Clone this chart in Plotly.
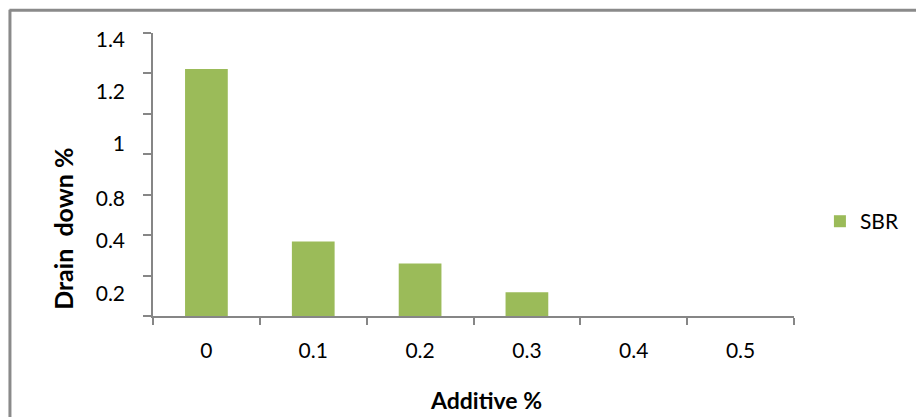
import plotly.graph_objects as go

# ---- data ----
categories = ["0", "0.1", "0.2", "0.3", "0.4", "0.5"]
sbr_values = [1.222, 0.368, 0.26, 0.118, 0, 0]
y_tick_text = ["1.4", "1.2", "1", "0.8", "0.4", "0.2"]
y_tick_pos = [1.367, 1.110, 0.853, 0.581, 0.373, 0.112]

# ---- layout constants (pixels) ----
W, H = 916, 417
L, R, T, B = 153, 796, 33.3, 316.5
GRAY = "#868686"


def px_x(p):
    return (p - L) / (R - L)


def px_y(p):
    return (B - p) / (B - T)


fig = go.Figure(
    go.Bar(
        x=categories,
        y=sbr_values,
        name="SBR",
        width=0.4,
        marker=dict(color="#9BBB59", line=dict(width=0)),
    )
)

fig.update_layout(
    width=W,
    height=H,
    margin=dict(l=L, r=W - R, t=T, b=H - B, pad=0),
    paper_bgcolor="white",
    plot_bgcolor="white",
    font=dict(family="Lato", size=21, color="#000000"),
    showlegend=True,
    legend=dict(
        x=px_x(822),
        y=px_y(222),
        xanchor="left",
        yanchor="middle",
        font=dict(size=21),
        bgcolor="rgba(0,0,0,0)",
    ),
    bargap=0.6,
)

fig.update_xaxes(
    type="category",
    range=[-0.5, 5.5],
    showline=True,
    linecolor=GRAY,
    linewidth=1.5,
    ticks="outside",
    ticklen=7,
    tickcolor=GRAY,
    tickwidth=1.5,
    tickson="boundaries",
    showgrid=False,
    zeroline=False,
    ticklabelstandoff=15,
)

fig.update_yaxes(
    range=[0, 1.4],
    tickmode="array",
    tickvals=y_tick_pos,
    ticktext=y_tick_text,
    ticks="",
    showline=True,
    linecolor=GRAY,
    linewidth=1.5,
    showgrid=False,
    zeroline=False,
    ticklabelstandoff=22,
    minor=dict(
        tickmode="linear",
        tick0=0,
        dtick=0.2,
        ticks="outside",
        ticklen=8,
        tickcolor=GRAY,
        tickwidth=1.5,
        showgrid=False,
    ),
)

# axis titles
fig.add_annotation(
    text="<b>Additive %</b>",
    xref="paper", yref="paper",
    x=px_x(487), y=px_y(401),
    xanchor="center", yanchor="middle",
    showarrow=False,
    font=dict(size=23),
)
fig.add_annotation(
    text="<b>Drain  down %</b>",
    xref="paper", yref="paper",
    x=px_x(62), y=px_y(229),
    xanchor="center", yanchor="middle",
    textangle=-90,
    showarrow=False,
    font=dict(size=25),
)

# outer chart border (top and left)
fig.add_shape(
    type="line", xref="paper", yref="paper",
    x0=px_x(9), x1=px_x(920), y0=px_y(10.5), y1=px_y(10.5),
    line=dict(color="#8a8a8a", width=3),
)
fig.add_shape(
    type="line", xref="paper", yref="paper",
    x0=px_x(9.5), x1=px_x(9.5), y0=px_y(10), y1=px_y(420),
    line=dict(color="#8a8a8a", width=3),
)

fig.write_html("out.html")
